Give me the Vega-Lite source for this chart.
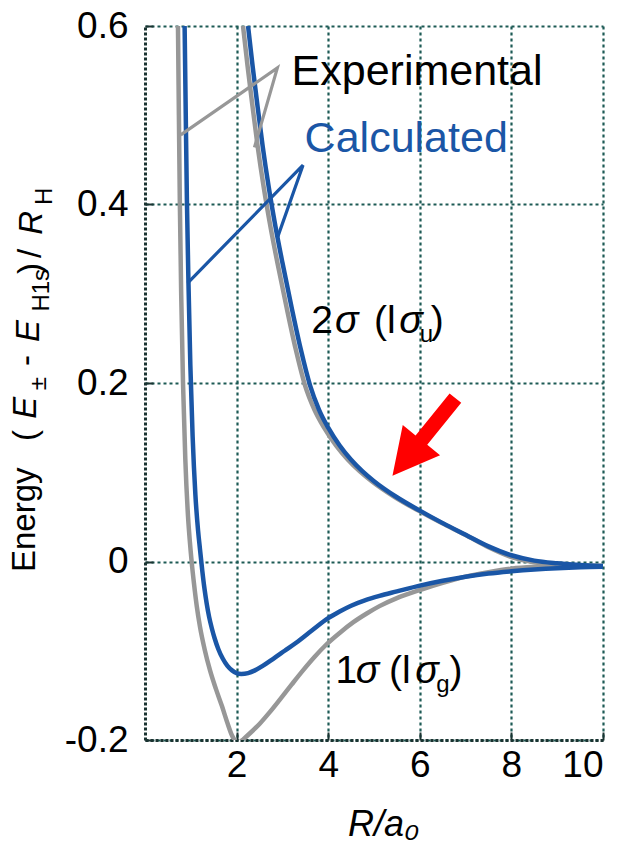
{
  "$schema": "https://vega.github.io/schema/vega-lite/v6.json",
  "width": 458,
  "height": 714,
  "autosize": {"type": "none"},
  "padding": {"left": 145, "top": 26, "right": 24, "bottom": 106},
  "background": "white",
  "config": {"view": {"stroke": null}, "font": "Liberation Sans"},
  "datasets": {
    "curves": [
      {"k":"Experimental","c":"eu","R":2.14,"E":0.600},{"k":"Experimental","c":"eu","R":2.24,"E":0.555},{"k":"Experimental","c":"eu","R":2.34,"E":0.513},{"k":"Experimental","c":"eu","R":2.46,"E":0.465},{"k":"Experimental","c":"eu","R":2.59,"E":0.420},{"k":"Experimental","c":"eu","R":2.74,"E":0.375},{"k":"Experimental","c":"eu","R":2.89,"E":0.335},{"k":"Experimental","c":"eu","R":3.09,"E":0.285},{"k":"Experimental","c":"eu","R":3.29,"E":0.238},{"k":"Experimental","c":"eu","R":3.49,"E":0.198},{"k":"Experimental","c":"eu","R":3.70,"E":0.170},{"k":"Experimental","c":"eu","R":3.91,"E":0.150},{"k":"Experimental","c":"eu","R":4.17,"E":0.130},{"k":"Experimental","c":"eu","R":4.43,"E":0.114},{"k":"Experimental","c":"eu","R":4.69,"E":0.101},{"k":"Experimental","c":"eu","R":4.95,"E":0.090},{"k":"Experimental","c":"eu","R":5.46,"E":0.072},{"k":"Experimental","c":"eu","R":5.97,"E":0.057},{"k":"Experimental","c":"eu","R":6.48,"E":0.043},{"k":"Experimental","c":"eu","R":6.99,"E":0.030},{"k":"Experimental","c":"eu","R":7.50,"E":0.016},{"k":"Experimental","c":"eu","R":8.00,"E":0.005},{"k":"Experimental","c":"eu","R":8.50,"E":-0.001},{"k":"Experimental","c":"eu","R":9.00,"E":-0.003},{"k":"Experimental","c":"eu","R":9.50,"E":-0.0045},{"k":"Experimental","c":"eu","R":10.00,"E":-0.005},
      {"k":"Experimental","c":"eg","R":0.72,"E":0.600},{"k":"Experimental","c":"eg","R":0.74,"E":0.500},{"k":"Experimental","c":"eg","R":0.76,"E":0.405},{"k":"Experimental","c":"eg","R":0.79,"E":0.300},{"k":"Experimental","c":"eg","R":0.83,"E":0.200},{"k":"Experimental","c":"eg","R":0.88,"E":0.115},{"k":"Experimental","c":"eg","R":0.94,"E":0.050},{"k":"Experimental","c":"eg","R":0.98,"E":0.022},{"k":"Experimental","c":"eg","R":1.02,"E":-0.001},{"k":"Experimental","c":"eg","R":1.07,"E":-0.025},{"k":"Experimental","c":"eg","R":1.13,"E":-0.050},{"k":"Experimental","c":"eg","R":1.20,"E":-0.073},{"k":"Experimental","c":"eg","R":1.30,"E":-0.098},{"k":"Experimental","c":"eg","R":1.42,"E":-0.122},{"k":"Experimental","c":"eg","R":1.55,"E":-0.143},{"k":"Experimental","c":"eg","R":1.68,"E":-0.162},{"k":"Experimental","c":"eg","R":1.80,"E":-0.181},{"k":"Experimental","c":"eg","R":1.90,"E":-0.195},{"k":"Experimental","c":"eg","R":1.97,"E":-0.201},{"k":"Experimental","c":"eg","R":2.02,"E":-0.203},{"k":"Experimental","c":"eg","R":2.08,"E":-0.202},{"k":"Experimental","c":"eg","R":2.15,"E":-0.199},{"k":"Experimental","c":"eg","R":2.28,"E":-0.193},{"k":"Experimental","c":"eg","R":2.50,"E":-0.182},{"k":"Experimental","c":"eg","R":2.72,"E":-0.169},{"k":"Experimental","c":"eg","R":2.94,"E":-0.155},{"k":"Experimental","c":"eg","R":3.20,"E":-0.138},{"k":"Experimental","c":"eg","R":3.45,"E":-0.122},{"k":"Experimental","c":"eg","R":3.70,"E":-0.107},{"k":"Experimental","c":"eg","R":3.96,"E":-0.093},{"k":"Experimental","c":"eg","R":4.25,"E":-0.080},{"k":"Experimental","c":"eg","R":4.55,"E":-0.068},{"k":"Experimental","c":"eg","R":4.85,"E":-0.058},{"k":"Experimental","c":"eg","R":5.12,"E":-0.050},{"k":"Experimental","c":"eg","R":5.50,"E":-0.041},{"k":"Experimental","c":"eg","R":6.00,"E":-0.032},{"k":"Experimental","c":"eg","R":6.50,"E":-0.024},{"k":"Experimental","c":"eg","R":7.00,"E":-0.017},{"k":"Experimental","c":"eg","R":7.50,"E":-0.012},{"k":"Experimental","c":"eg","R":8.00,"E":-0.008},{"k":"Experimental","c":"eg","R":8.50,"E":-0.006},{"k":"Experimental","c":"eg","R":9.00,"E":-0.005},{"k":"Experimental","c":"eg","R":9.50,"E":-0.005},{"k":"Experimental","c":"eg","R":10.00,"E":-0.005},
      {"k":"Calculated","c":"cu","R":2.25,"E":0.600},{"k":"Calculated","c":"cu","R":2.35,"E":0.555},{"k":"Calculated","c":"cu","R":2.45,"E":0.513},{"k":"Calculated","c":"cu","R":2.57,"E":0.465},{"k":"Calculated","c":"cu","R":2.70,"E":0.420},{"k":"Calculated","c":"cu","R":2.85,"E":0.375},{"k":"Calculated","c":"cu","R":3.00,"E":0.335},{"k":"Calculated","c":"cu","R":3.20,"E":0.285},{"k":"Calculated","c":"cu","R":3.40,"E":0.238},{"k":"Calculated","c":"cu","R":3.60,"E":0.198},{"k":"Calculated","c":"cu","R":3.80,"E":0.170},{"k":"Calculated","c":"cu","R":4.00,"E":0.150},{"k":"Calculated","c":"cu","R":4.25,"E":0.130},{"k":"Calculated","c":"cu","R":4.50,"E":0.114},{"k":"Calculated","c":"cu","R":4.75,"E":0.101},{"k":"Calculated","c":"cu","R":5.00,"E":0.090},{"k":"Calculated","c":"cu","R":5.50,"E":0.072},{"k":"Calculated","c":"cu","R":6.00,"E":0.057},{"k":"Calculated","c":"cu","R":6.50,"E":0.043},{"k":"Calculated","c":"cu","R":7.00,"E":0.030},{"k":"Calculated","c":"cu","R":7.50,"E":0.017},{"k":"Calculated","c":"cu","R":8.00,"E":0.007},{"k":"Calculated","c":"cu","R":8.50,"E":0.001},{"k":"Calculated","c":"cu","R":9.00,"E":-0.002},{"k":"Calculated","c":"cu","R":9.50,"E":-0.004},{"k":"Calculated","c":"cu","R":10.00,"E":-0.005},
      {"k":"Calculated","c":"cg","R":0.865,"E":0.600},{"k":"Calculated","c":"cg","R":0.89,"E":0.500},{"k":"Calculated","c":"cg","R":0.915,"E":0.405},{"k":"Calculated","c":"cg","R":0.95,"E":0.310},{"k":"Calculated","c":"cg","R":0.99,"E":0.220},{"k":"Calculated","c":"cg","R":1.04,"E":0.140},{"k":"Calculated","c":"cg","R":1.10,"E":0.075},{"k":"Calculated","c":"cg","R":1.16,"E":0.034},{"k":"Calculated","c":"cg","R":1.20,"E":0.014},{"k":"Calculated","c":"cg","R":1.25,"E":-0.010},{"k":"Calculated","c":"cg","R":1.30,"E":-0.031},{"k":"Calculated","c":"cg","R":1.35,"E":-0.048},{"k":"Calculated","c":"cg","R":1.40,"E":-0.062},{"k":"Calculated","c":"cg","R":1.46,"E":-0.075},{"k":"Calculated","c":"cg","R":1.52,"E":-0.086},{"k":"Calculated","c":"cg","R":1.60,"E":-0.098},{"k":"Calculated","c":"cg","R":1.70,"E":-0.109},{"k":"Calculated","c":"cg","R":1.80,"E":-0.117},{"k":"Calculated","c":"cg","R":1.90,"E":-0.122},{"k":"Calculated","c":"cg","R":2.00,"E":-0.125},{"k":"Calculated","c":"cg","R":2.10,"E":-0.126},{"k":"Calculated","c":"cg","R":2.25,"E":-0.125},{"k":"Calculated","c":"cg","R":2.40,"E":-0.122},{"k":"Calculated","c":"cg","R":2.57,"E":-0.117},{"k":"Calculated","c":"cg","R":2.80,"E":-0.109},{"k":"Calculated","c":"cg","R":3.05,"E":-0.100},{"k":"Calculated","c":"cg","R":3.30,"E":-0.091},{"k":"Calculated","c":"cg","R":3.65,"E":-0.077},{"k":"Calculated","c":"cg","R":4.00,"E":-0.0635},{"k":"Calculated","c":"cg","R":4.25,"E":-0.056},{"k":"Calculated","c":"cg","R":4.50,"E":-0.0495},{"k":"Calculated","c":"cg","R":4.80,"E":-0.0435},{"k":"Calculated","c":"cg","R":5.12,"E":-0.0385},{"k":"Calculated","c":"cg","R":5.50,"E":-0.0335},{"k":"Calculated","c":"cg","R":6.00,"E":-0.027},{"k":"Calculated","c":"cg","R":6.50,"E":-0.0215},{"k":"Calculated","c":"cg","R":7.00,"E":-0.017},{"k":"Calculated","c":"cg","R":7.50,"E":-0.0135},{"k":"Calculated","c":"cg","R":8.00,"E":-0.011},{"k":"Calculated","c":"cg","R":8.50,"E":-0.009},{"k":"Calculated","c":"cg","R":9.00,"E":-0.0075},{"k":"Calculated","c":"cg","R":9.50,"E":-0.0065},{"k":"Calculated","c":"cg","R":10.00,"E":-0.006}
    ],
    "pointers": [
      {"k":"Experimental","o":1,"R":0.78,"E":0.478},{"k":"Experimental","o":2,"R":2.89,"E":0.553},{"k":"Experimental","o":3,"R":2.39,"E":0.464},
      {"k":"Calculated","o":1,"R":0.93,"E":0.312},{"k":"Calculated","o":2,"R":3.45,"E":0.444},{"k":"Calculated","o":3,"R":2.90,"E":0.364}
    ]
  },
  "layer": [
    {
      "data": {"name": "curves"},
      "mark": {"type": "line", "strokeWidth": 4.5, "clip": true, "interpolate": "monotone"},
      "encoding": {
        "x": {"field": "R", "type": "quantitative",
          "scale": {"domain": [0, 10], "nice": false, "zero": false},
          "axis": {"values": [2, 4, 6, 8, 10], "grid": true, "gridDash": [3, 3], "gridColor": "#1d5a55", "gridWidth": 2.2, "gridOpacity": 1,
            "domainColor": "#1a3331", "domainWidth": 3, "domainDash": [3, 2],
            "ticks": true, "tickColor": "#1a3331", "tickWidth": 2, "tickSize": -8,
            "labelFontSize": 37, "labelColor": "black", "labelPadding": 15, "labelFont": "Liberation Sans",
            "title": "R/a₀", "titleFontSize": 36, "titleFontStyle": "italic", "titleFontWeight": "normal", "titleColor": "black", "titleFont": "Liberation Sans", "titlePadding": 24, "titleX": 238}},
        "y": {"field": "E", "type": "quantitative",
          "scale": {"domain": [-0.2, 0.6], "nice": false, "zero": false},
          "axis": {"values": [-0.2, 0, 0.2, 0.4, 0.6], "grid": true, "gridDash": [3, 3], "gridColor": "#1d5a55", "gridWidth": 2.2, "gridOpacity": 1,
            "domainColor": "#1a3331", "domainWidth": 3, "domainDash": [3, 2],
            "ticks": true, "tickColor": "#1a3331", "tickWidth": 2, "tickSize": -8,
            "labelFontSize": 37, "labelColor": "black", "labelPadding": 25, "labelFont": "Liberation Sans",
            "labelExpr": "datum.value == 0 ? '0' : (datum.value < 0 ? '-' + format(-datum.value, '.1f') : format(datum.value, '.1f'))",
            "title": null}},
        "color": {"field": "k", "type": "nominal", "scale": {"domain": ["Experimental", "Calculated"], "range": ["#979797", "#1a56a6"]}, "legend": null},
        "detail": {"field": "c"},
        "order": {"field": "R", "type": "quantitative"}
      }
    },
    {
      "data": {"name": "pointers"},
      "mark": {"type": "line", "strokeWidth": 3.2, "clip": true},
      "encoding": {
        "x": {"field": "R", "type": "quantitative", "scale": {"domain": [0, 10], "nice": false, "zero": false}},
        "y": {"field": "E", "type": "quantitative", "scale": {"domain": [-0.2, 0.6], "nice": false, "zero": false}},
        "color": {"field": "k", "type": "nominal", "scale": {"domain": ["Experimental", "Calculated"], "range": ["#979797", "#1a56a6"]}, "legend": null},
        "detail": {"field": "k"},
        "order": {"field": "o", "type": "quantitative"}
      }
    },
    {
      "data": {"values": [{"R": 6.09, "E": 0.1395}]},
      "mark": {"type": "point", "shape": "M0,-1L0.48,-0.08L0.15,-0.08L0.15,1L-0.15,1L-0.15,-0.08L-0.48,-0.08Z", "angle": 219, "size": 10000, "filled": true, "fill": "#ff0000", "opacity": 1, "strokeWidth": 0},
      "encoding": {
        "x": {"field": "R", "type": "quantitative", "scale": {"domain": [0, 10], "nice": false, "zero": false}},
        "y": {"field": "E", "type": "quantitative", "scale": {"domain": [-0.2, 0.6], "nice": false, "zero": false}}
      }
    },
    {
      "data": {"values": [{"t": "Experimental", "R": 3.20, "E": 0.534}]},
      "mark": {"type": "text", "align": "left", "baseline": "alphabetic", "fontSize": 43, "color": "black"},
      "encoding": {
        "x": {"field": "R", "type": "quantitative", "scale": {"domain": [0, 10], "nice": false, "zero": false}},
        "y": {"field": "E", "type": "quantitative", "scale": {"domain": [-0.2, 0.6], "nice": false, "zero": false}},
        "text": {"field": "t"}
      }
    },
    {
      "data": {"values": [{"t": "Calculated", "R": 3.485, "E": 0.4588}]},
      "mark": {"type": "text", "align": "left", "baseline": "alphabetic", "fontSize": 43, "color": "#1a56a6"},
      "encoding": {
        "x": {"field": "R", "type": "quantitative", "scale": {"domain": [0, 10], "nice": false, "zero": false}},
        "y": {"field": "E", "type": "quantitative", "scale": {"domain": [-0.2, 0.6], "nice": false, "zero": false}},
        "text": {"field": "t"}
      }
    },
    {
      "data": {"values": [
        {"t": "2", "R": 3.63, "E": 0.256}, {"t": "(l", "R": 5.0, "E": 0.256}, {"t": ")", "R": 6.24, "E": 0.256},
        {"t": "1", "R": 4.16, "E": -0.136}, {"t": "(l", "R": 5.33, "E": -0.136}, {"t": ")", "R": 6.65, "E": -0.136}
      ]},
      "mark": {"type": "text", "align": "left", "baseline": "alphabetic", "fontSize": 39, "color": "black"},
      "encoding": {
        "x": {"field": "R", "type": "quantitative", "scale": {"domain": [0, 10], "nice": false, "zero": false}},
        "y": {"field": "E", "type": "quantitative", "scale": {"domain": [-0.2, 0.6], "nice": false, "zero": false}},
        "text": {"field": "t"}
      }
    },
    {
      "data": {"values": [
        {"t": "σ", "R": 4.15, "E": 0.256}, {"t": "σ", "R": 5.55, "E": 0.256},
        {"t": "σ", "R": 4.6, "E": -0.136}, {"t": "σ", "R": 5.9, "E": -0.136}
      ]},
      "mark": {"type": "text", "align": "left", "baseline": "alphabetic", "fontSize": 39, "fontStyle": "italic", "color": "black"},
      "encoding": {
        "x": {"field": "R", "type": "quantitative", "scale": {"domain": [0, 10], "nice": false, "zero": false}},
        "y": {"field": "E", "type": "quantitative", "scale": {"domain": [-0.2, 0.6], "nice": false, "zero": false}},
        "text": {"field": "t"}
      }
    },
    {
      "data": {"values": [
        {"t": "u", "R": 6.0, "E": 0.246}, {"t": "g", "R": 6.36, "E": -0.146}
      ]},
      "mark": {"type": "text", "align": "left", "baseline": "alphabetic", "fontSize": 24, "color": "black"},
      "encoding": {
        "x": {"field": "R", "type": "quantitative", "scale": {"domain": [0, 10], "nice": false, "zero": false}},
        "y": {"field": "E", "type": "quantitative", "scale": {"domain": [-0.2, 0.6], "nice": false, "zero": false}},
        "text": {"field": "t"}
      }
    },
    {
      "data": {"values": [
        {"t": "Energy", "R": -2.41, "E": -0.0118}, {"t": "(", "R": -2.39, "E": 0.135}, {"t": "-", "R": -2.35, "E": 0.219},
        {"t": ")", "R": -2.28, "E": 0.322}, {"t": "/", "R": -2.28, "E": 0.340}
      ]},
      "mark": {"type": "text", "align": "left", "baseline": "alphabetic", "angle": 270, "fontSize": 33, "color": "black", "clip": false},
      "encoding": {
        "x": {"field": "R", "type": "quantitative", "scale": {"domain": [0, 10], "nice": false, "zero": false}},
        "y": {"field": "E", "type": "quantitative", "scale": {"domain": [-0.2, 0.6], "nice": false, "zero": false}},
        "text": {"field": "t"}
      }
    },
    {
      "data": {"values": [
        {"t": "E", "R": -2.37, "E": 0.160}, {"t": "E", "R": -2.32, "E": 0.246}, {"t": "R", "R": -2.24, "E": 0.366}
      ]},
      "mark": {"type": "text", "align": "left", "baseline": "alphabetic", "angle": 270, "fontSize": 33, "fontStyle": "italic", "color": "black", "clip": false},
      "encoding": {
        "x": {"field": "R", "type": "quantitative", "scale": {"domain": [0, 10], "nice": false, "zero": false}},
        "y": {"field": "E", "type": "quantitative", "scale": {"domain": [-0.2, 0.6], "nice": false, "zero": false}},
        "text": {"field": "t"}
      }
    },
    {
      "data": {"values": [
        {"t": "±", "R": -2.17, "E": 0.192}, {"t": "H1s", "R": -2.10, "E": 0.280}, {"t": "H", "R": -2.03, "E": 0.3995}
      ]},
      "mark": {"type": "text", "align": "left", "baseline": "alphabetic", "angle": 270, "fontSize": 24, "color": "black", "clip": false},
      "encoding": {
        "x": {"field": "R", "type": "quantitative", "scale": {"domain": [0, 10], "nice": false, "zero": false}},
        "y": {"field": "E", "type": "quantitative", "scale": {"domain": [-0.2, 0.6], "nice": false, "zero": false}},
        "text": {"field": "t"}
      }
    }
  ]
}
